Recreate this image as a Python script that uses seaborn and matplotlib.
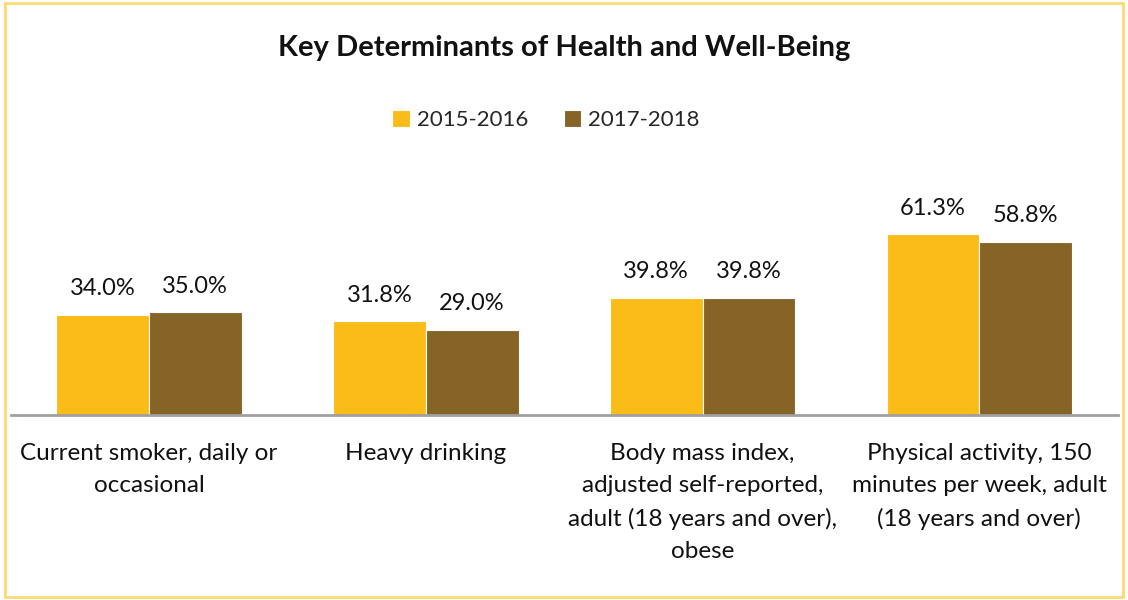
import pandas as pd
import seaborn as sns
import matplotlib.pyplot as plt
from matplotlib.patches import Rectangle

# datos
categorias = [
    "Current smoker, daily or\noccasional",
    "Heavy drinking",
    "Body mass index,\nadjusted self-reported,\nadult (18 years and over),\nobese",
    "Physical activity, 150\nminutes per week, adult\n(18 years and over)",
]
periodos = ["2015-2016", "2017-2018"]
valores_2015 = [34.0, 31.8, 39.8, 61.3]
valores_2017 = [35.0, 29.0, 39.8, 58.8]
colores = ["#FBBC18", "#866428"]

df = pd.DataFrame({
    "Categoria": categorias * 2,
    "Periodo": [periodos[0]] * 4 + [periodos[1]] * 4,
    "Valor": valores_2015 + valores_2017,
})

sns.set_style("white")
plt.rcParams["font.family"] = ["Lato", "DejaVu Sans"]

fig = plt.figure(figsize=(11.28, 6), dpi=100)
ax = fig.add_axes([0.0094, 0.308, 0.9815, 0.32])

sns.barplot(data=df, x="Categoria", y="Valor", hue="Periodo", palette=colores,
            saturation=1, width=0.67, edgecolor="white", linewidth=0.8, ax=ax)

for cont in ax.containers:
    ax.bar_label(cont, labels=[f"{v:.1f}%" for v in cont.datavalues],
                 padding=11, fontsize=17, color="#111111", clip_on=False)

ax.set_ylim(0, 65)
ax.set_xlim(-0.5, 3.5)
ax.set_yticks([])
ax.set_xlabel("")
ax.set_ylabel("")
ax.tick_params(axis="x", length=0, pad=20, labelsize=17.5, labelcolor="#111111")
for lbl in ax.get_xticklabels():
    lbl.set_linespacing(1.65)
    lbl.set_verticalalignment("top")
for s in ["top", "left", "right"]:
    ax.spines[s].set_visible(False)
ax.spines["bottom"].set_color("#A0A0A0")
ax.spines["bottom"].set_linewidth(2)

leg = ax.legend(loc="center", bbox_to_anchor=(0.484, 0.8), bbox_transform=fig.transFigure,
                ncol=2, frameon=False, fontsize=16, handlelength=0.8, handleheight=0.8,
                handletextpad=0.3, columnspacing=1.6)

fig.text(0.5, 0.92, "Key Determinants of Health and Well-Being", ha="center", va="center",
         fontsize=21, fontweight="bold", color="#111111")

fig.patches.append(Rectangle((0.004, 0.005), 0.992, 0.99, transform=fig.transFigure,
                             fill=False, edgecolor="#FCD971", linewidth=2))

plt.savefig("out.png", dpi=100)
